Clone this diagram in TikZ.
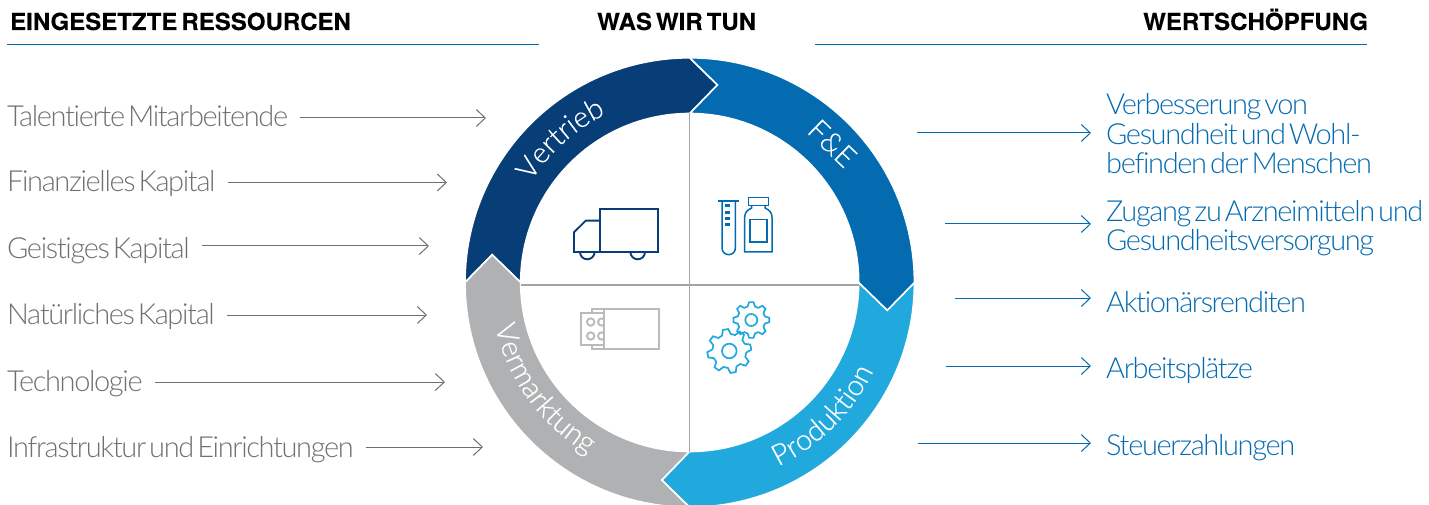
\documentclass[tikz,border=0pt]{standalone}
\usepackage{fontspec}
\usepackage{xcolor}
\usepackage{tikz}
\usetikzlibrary{arrows.meta, positioning, decorations.text}
\setmainfont{Lato Light}[LetterSpace=-4.7, WordSpace=0.45, Ligatures=NoCommon]
\newfontfamily\headfont{TeX Gyre Heros Bold}[FakeStretch=1.023, WordSpace=0.6, FakeBold=0.2]
\newfontfamily\ringface{Lato Light}[Ligatures=NoCommon, FakeBold=0.3]

\definecolor{navyblue}{HTML}{083E77}
\definecolor{midblue}{HTML}{056BB1}
\definecolor{skyblue}{HTML}{21A9DE}
\definecolor{ringgray}{HTML}{B0B1B3}
\definecolor{icongray}{HTML}{B9BABC}
\definecolor{textgray}{HTML}{6F7073}
\definecolor{crossgray}{HTML}{A3A4A6}
\newcommand{\ringfont}{\ringface\fontsize{29}{30}\selectfont}

\tikzset{
  headlabel/.style={anchor=base west, inner sep=0pt, text=black, font=\headfont\fontsize{23.5}{26}\selectfont},
  headrule/.style={midblue, line width=1pt},
  reslabel/.style={anchor=base west, inner sep=0pt, text=textgray, font=\fontsize{29}{30}\selectfont},
  vallabel/.style={anchor=west, inner sep=0pt, text=midblue, align=left, font=\fontsize{29}{29.5}\selectfont},
  resarrow/.style={draw=textgray, line width=1pt, shorten <=12pt, -{Straight Barb[length=9pt,width=17pt]}},
  valarrow/.style={draw=midblue, line width=1pt, shorten >=15pt, -{Straight Barb[length=9pt,width=17pt]}},
  ringtext/.style={postaction={decorate}, decoration={text along path, text align=center, text={#1}}},
  iconline/.style={line width=1.9pt, fill=white}
}

% one quarter of the ring, rotated clockwise from the top left
\newcommand{\ringpart}[2]{
  \fill[#2, rotate=#1, draw=white, line width=1.6pt]
    (180:224.7) arc (180:90:224.7) -- (82:199.5) -- (90:169) arc (90:180:169) -- (172:199.5) -- cycle;
}
% toothed wheel: centre, outer radius, root radius, hole radius, turn
\newcommand{\gearicon}[5]{
  \draw[skyblue, line width=1.7pt, shift={#1}, rotate=#5]
    (-15:#3) \foreach \a in {0,45,...,315} { -- ({\a-15}:#3) -- ({\a-7}:#2) -- ({\a+7}:#2) -- ({\a+15}:#3) } -- cycle;
  \draw[skyblue, line width=1.7pt, shift={#1}] (0,0) circle (#4);
}

\begin{document}
\begin{tikzpicture}[x=1pt, y=1pt]
  \clip (0,0) rectangle (1429,504);
  \useasboundingbox (0,0) rectangle (1429,504);

  % Headings
  \node[headlabel] (headres) at (10,474) {EINGESETZTE RESSOURCEN};
  \node[headlabel] (headwhat) at (597,474) {WAS WIR TUN};
  \node[headlabel] (headval) at (1143,474) {WERTSCHÖPFUNG};
  \draw[headrule] (7,459) -- (539,459);
  \draw[headrule] (815,459) -- (1367,459);

  % Ring around the centre
  \begin{scope}[shift={(689.7,221.5)}]
    \ringpart{0}{navyblue}
    \ringpart{90}{ringgray}
    \ringpart{180}{skyblue}
    \ringpart{270}{midblue}
    \path[ringtext={|\color{white}\ringfont|Vertrieb}] (172:188) arc (172:92:188);
    \node[text=white, font=\ringfont, rotate=-44, inner sep=0pt] (ringfe) at (142.6,139.2) {F\&E};
    \path[ringtext={|\color{white}\ringfont|Produktion}] (-85:204) arc (-85:-5:204);
    \path[ringtext={|\color{white}\ringfont|Vermarktung}] (176:199.5) arc (176:256:199.5);
    % Cross in the middle
    \draw[crossgray, line width=1.2pt] (0,169) -- (0,-169);
    \draw[crossgray, line width=1.2pt] (-169,-2.5) -- (169,-2.5);
  \end{scope}

  % Resources on the left
  \foreach \n/\txt/\base/\ya/\xa in {
    a/Talentierte Mitarbeitende/377/386/486,
    b/Finanzielles Kapital/312/321.5/447,
    c/Geistiges Kapital/246/258/429,
    d/Natürliches Kapital/180/189/427,
    e/Technologie/113/122/445,
    f/Infrastruktur und Einrichtungen/47/57/483} {
    \node[reslabel] (res\n) at (7,\base) {\txt};
    \coordinate (end\n) at (\xa,\ya);
    \draw[resarrow] (res\n.east |- end\n) -- (end\n);
  }

  % Value on the right
  \node[vallabel] (vala) at (1106,370) {Verbesserung von\\Gesundheit und Wohl-\\befinden der Menschen};
  \node[vallabel] (valb) at (1106,276) {Zugang zu Arzneimitteln und\\Gesundheitsversorgung};
  \node[vallabel] (valc) at (1106,202) {Aktionärsrenditen};
  \node[vallabel] (vald) at (1106,133) {Arbeitsplätze};
  \node[vallabel] (vale) at (1106,56) {Steuerzahlungen};
  \foreach \n/\ya/\xa in {a/371/917, b/280/945, c/206/955, d/138/946, e/61/918} {
    \coordinate (start\n) at (\xa,\ya);
    \draw[valarrow] (start\n) -- (val\n.west |- start\n);
  }

  % Truck
  \draw[navyblue, iconline] (600,295) rectangle (657.7,252);
  \draw[navyblue, iconline] (600,283.3) -- (585.7,283.3) -- (574,271.7) -- (574,252) -- (600,252) -- cycle;
  \draw[navyblue, line width=1.9pt] (580,252) arc (180:360:7.3);
  \draw[navyblue, line width=1.9pt] (630.4,252) arc (180:360:7.3);

  % Test tube and bottle
  \draw[midblue, line width=1.5pt] (718.3,303) -- (739,303);
  \draw[midblue, line width=1.5pt] (722,303) -- (722,256) arc (180:360:6.7) -- (735.4,303);
  \foreach \y in {297.3,290.3,284,278} {
    \fill[midblue] (725,\y) rectangle (730,\y+2.7);
  }
  \draw[midblue, line width=1.5pt] (748.3,298.3) rectangle (768.3,306.7);
  \draw[midblue, line width=1.5pt] (751.7,298.3) -- (751.7,296) .. controls (747,294) and (744.7,291) .. (744.7,287)
    -- (744.7,252) -- (772,252) -- (772,287) .. controls (772,291) and (769.5,294) .. (765,296) -- (765,298.3);
  \draw[midblue, line width=1.5pt] (750,284.3) rectangle (767,262);

  % Blister pack and sleeve
  \draw[icongray, iconline] (592.3,194.7) rectangle (610,154.7);
  \draw[icongray, iconline] (581.3,190.7) rectangle (610,159);
  \foreach \y in {182,168} {
    \draw[icongray, line width=1.9pt] (590.7,\y) circle (3.7);
    \draw[icongray, line width=1.9pt] (601.7,\y) circle (3.7);
  }
  \draw[icongray, iconline] (604,194.7) rectangle (659.3,154.7);

  % Gears
  \gearicon{(729.3,153)}{22}{17}{7.3}{10}
  \gearicon{(751.3,184)}{18}{14}{6}{0}
\end{tikzpicture}
\end{document}
